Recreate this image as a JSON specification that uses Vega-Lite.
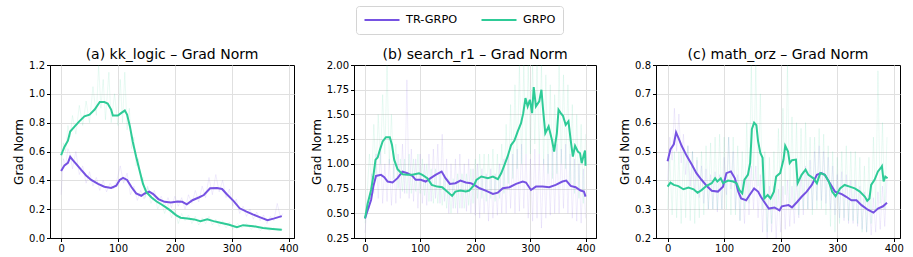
{
 "$schema": "https://vega.github.io/schema/vega-lite/v6.json",
 "padding": {"left": 12, "top": 5, "right": 5, "bottom": 5},
 "bounds": "flush",
 "spacing": 60,
 "config": {
   "font": "DejaVu Sans",
   "view": {"stroke": "#000000", "strokeWidth": 1, "strokeOpacity": 1},
   "axis": {"grid": true, "gridColor": "#e0e0e0", "gridWidth": 1, "domain": true, "domainColor": "#000000", "domainWidth": 1, "tickColor": "#000", "tickSize": 3.5, "labelFontSize": 10, "labelColor": "#000", "labelPadding": 2, "titleFontSize": 12, "titleFontWeight": "normal", "titleColor": "#000", "titlePadding": 3},
   "title": {"fontSize": 14, "fontWeight": "normal", "color": "#000", "offset": -2},
   "legend": {"title": null, "orient": "none", "legendX": 306, "legendY": -59, "direction": "horizontal", "gridAlign": "none", "symbolType": "stroke", "symbolSize": 1225, "clipHeight": 14, "symbolStrokeWidth": 2.2, "symbolOpacity": 1, "labelFontSize": 11.3, "labelColor": "#000", "labelOffset": 5, "columnPadding": 22, "padding": 7, "strokeColor": "#d4d4d4", "cornerRadius": 3, "fillColor": "#ffffff"}
 },
 "datasets": {
 "raw": [
{"p":"a","m":"TR-GRPO","s":0,"v":0.3},{"p":"a","m":"TR-GRPO","s":4,"v":0.55},{"p":"a","m":"TR-GRPO","s":8,"v":0.5},{"p":"a","m":"TR-GRPO","s":12,"v":0.62},{"p":"a","m":"TR-GRPO","s":16,"v":0.58},{"p":"a","m":"TR-GRPO","s":20,"v":0.48},{"p":"a","m":"TR-GRPO","s":26,"v":0.6},{"p":"a","m":"TR-GRPO","s":32,"v":0.44},{"p":"a","m":"TR-GRPO","s":38,"v":0.5},{"p":"a","m":"TR-GRPO","s":44,"v":0.38},{"p":"a","m":"TR-GRPO","s":50,"v":0.46},{"p":"a","m":"TR-GRPO","s":56,"v":0.36},{"p":"a","m":"TR-GRPO","s":62,"v":0.42},{"p":"a","m":"TR-GRPO","s":68,"v":0.33},{"p":"a","m":"TR-GRPO","s":74,"v":0.4},{"p":"a","m":"TR-GRPO","s":80,"v":0.32},{"p":"a","m":"TR-GRPO","s":86,"v":0.38},{"p":"a","m":"TR-GRPO","s":92,"v":0.34},{"p":"a","m":"TR-GRPO","s":98,"v":0.4},{"p":"a","m":"TR-GRPO","s":104,"v":0.5},{"p":"a","m":"TR-GRPO","s":110,"v":0.38},{"p":"a","m":"TR-GRPO","s":116,"v":0.45},{"p":"a","m":"TR-GRPO","s":122,"v":0.3},{"p":"a","m":"TR-GRPO","s":128,"v":0.36},{"p":"a","m":"TR-GRPO","s":134,"v":0.26},{"p":"a","m":"TR-GRPO","s":140,"v":0.33},{"p":"a","m":"TR-GRPO","s":146,"v":0.27},{"p":"a","m":"TR-GRPO","s":152,"v":0.36},{"p":"a","m":"TR-GRPO","s":158,"v":0.28},{"p":"a","m":"TR-GRPO","s":164,"v":0.33},{"p":"a","m":"TR-GRPO","s":170,"v":0.24},{"p":"a","m":"TR-GRPO","s":176,"v":0.29},{"p":"a","m":"TR-GRPO","s":182,"v":0.22},{"p":"a","m":"TR-GRPO","s":188,"v":0.28},{"p":"a","m":"TR-GRPO","s":194,"v":0.21},{"p":"a","m":"TR-GRPO","s":200,"v":0.29},{"p":"a","m":"TR-GRPO","s":206,"v":0.22},{"p":"a","m":"TR-GRPO","s":212,"v":0.28},{"p":"a","m":"TR-GRPO","s":218,"v":0.2},{"p":"a","m":"TR-GRPO","s":224,"v":0.3},{"p":"a","m":"TR-GRPO","s":230,"v":0.24},{"p":"a","m":"TR-GRPO","s":236,"v":0.33},{"p":"a","m":"TR-GRPO","s":242,"v":0.25},{"p":"a","m":"TR-GRPO","s":248,"v":0.36},{"p":"a","m":"TR-GRPO","s":254,"v":0.28},{"p":"a","m":"TR-GRPO","s":260,"v":0.42},{"p":"a","m":"TR-GRPO","s":266,"v":0.3},{"p":"a","m":"TR-GRPO","s":272,"v":0.44},{"p":"a","m":"TR-GRPO","s":278,"v":0.32},{"p":"a","m":"TR-GRPO","s":284,"v":0.4},{"p":"a","m":"TR-GRPO","s":290,"v":0.28},{"p":"a","m":"TR-GRPO","s":296,"v":0.34},{"p":"a","m":"TR-GRPO","s":302,"v":0.22},{"p":"a","m":"TR-GRPO","s":308,"v":0.27},{"p":"a","m":"TR-GRPO","s":314,"v":0.17},{"p":"a","m":"TR-GRPO","s":320,"v":0.22},{"p":"a","m":"TR-GRPO","s":326,"v":0.15},{"p":"a","m":"TR-GRPO","s":332,"v":0.2},{"p":"a","m":"TR-GRPO","s":338,"v":0.13},{"p":"a","m":"TR-GRPO","s":344,"v":0.18},{"p":"a","m":"TR-GRPO","s":350,"v":0.12},{"p":"a","m":"TR-GRPO","s":356,"v":0.16},{"p":"a","m":"TR-GRPO","s":362,"v":0.1},{"p":"a","m":"TR-GRPO","s":368,"v":0.15},{"p":"a","m":"TR-GRPO","s":374,"v":0.12},{"p":"a","m":"TR-GRPO","s":380,"v":0.24},{"p":"a","m":"TR-GRPO","s":386,"v":0.14},{"p":"a","m":"TR-GRPO","s":390,"v":0.17},
{"p":"a","m":"GRPO","s":0,"v":0.5},{"p":"a","m":"GRPO","s":4,"v":0.66},{"p":"a","m":"GRPO","s":8,"v":0.6},{"p":"a","m":"GRPO","s":12,"v":0.78},{"p":"a","m":"GRPO","s":16,"v":0.7},{"p":"a","m":"GRPO","s":20,"v":0.85},{"p":"a","m":"GRPO","s":26,"v":0.72},{"p":"a","m":"GRPO","s":32,"v":0.92},{"p":"a","m":"GRPO","s":38,"v":0.78},{"p":"a","m":"GRPO","s":44,"v":0.95},{"p":"a","m":"GRPO","s":50,"v":0.8},{"p":"a","m":"GRPO","s":56,"v":1.05},{"p":"a","m":"GRPO","s":62,"v":0.85},{"p":"a","m":"GRPO","s":66,"v":1.2},{"p":"a","m":"GRPO","s":70,"v":0.9},{"p":"a","m":"GRPO","s":74,"v":1.1},{"p":"a","m":"GRPO","s":78,"v":0.82},{"p":"a","m":"GRPO","s":84,"v":1.15},{"p":"a","m":"GRPO","s":88,"v":0.8},{"p":"a","m":"GRPO","s":94,"v":1.0},{"p":"a","m":"GRPO","s":100,"v":0.78},{"p":"a","m":"GRPO","s":104,"v":1.1},{"p":"a","m":"GRPO","s":108,"v":0.8},{"p":"a","m":"GRPO","s":112,"v":1.15},{"p":"a","m":"GRPO","s":116,"v":0.75},{"p":"a","m":"GRPO","s":120,"v":0.9},{"p":"a","m":"GRPO","s":124,"v":0.62},{"p":"a","m":"GRPO","s":128,"v":0.7},{"p":"a","m":"GRPO","s":132,"v":0.5},{"p":"a","m":"GRPO","s":136,"v":0.55},{"p":"a","m":"GRPO","s":140,"v":0.4},{"p":"a","m":"GRPO","s":144,"v":0.42},{"p":"a","m":"GRPO","s":148,"v":0.28},{"p":"a","m":"GRPO","s":152,"v":0.35},{"p":"a","m":"GRPO","s":158,"v":0.24},{"p":"a","m":"GRPO","s":164,"v":0.3},{"p":"a","m":"GRPO","s":170,"v":0.2},{"p":"a","m":"GRPO","s":176,"v":0.26},{"p":"a","m":"GRPO","s":182,"v":0.17},{"p":"a","m":"GRPO","s":188,"v":0.24},{"p":"a","m":"GRPO","s":194,"v":0.14},{"p":"a","m":"GRPO","s":200,"v":0.2},{"p":"a","m":"GRPO","s":206,"v":0.1},{"p":"a","m":"GRPO","s":212,"v":0.17},{"p":"a","m":"GRPO","s":218,"v":0.12},{"p":"a","m":"GRPO","s":224,"v":0.16},{"p":"a","m":"GRPO","s":230,"v":0.1},{"p":"a","m":"GRPO","s":236,"v":0.15},{"p":"a","m":"GRPO","s":242,"v":0.09},{"p":"a","m":"GRPO","s":248,"v":0.14},{"p":"a","m":"GRPO","s":254,"v":0.1},{"p":"a","m":"GRPO","s":260,"v":0.15},{"p":"a","m":"GRPO","s":266,"v":0.09},{"p":"a","m":"GRPO","s":272,"v":0.13},{"p":"a","m":"GRPO","s":278,"v":0.08},{"p":"a","m":"GRPO","s":284,"v":0.12},{"p":"a","m":"GRPO","s":290,"v":0.07},{"p":"a","m":"GRPO","s":296,"v":0.11},{"p":"a","m":"GRPO","s":302,"v":0.06},{"p":"a","m":"GRPO","s":310,"v":0.1},{"p":"a","m":"GRPO","s":318,"v":0.07},{"p":"a","m":"GRPO","s":326,"v":0.1},{"p":"a","m":"GRPO","s":334,"v":0.06},{"p":"a","m":"GRPO","s":342,"v":0.09},{"p":"a","m":"GRPO","s":350,"v":0.05},{"p":"a","m":"GRPO","s":358,"v":0.08},{"p":"a","m":"GRPO","s":366,"v":0.05},{"p":"a","m":"GRPO","s":374,"v":0.07},{"p":"a","m":"GRPO","s":382,"v":0.05},{"p":"a","m":"GRPO","s":390,"v":0.06},
{"p":"b","m":"TR-GRPO","s":0,"v":0.3},{"p":"b","m":"TR-GRPO","s":4,"v":0.6},{"p":"b","m":"TR-GRPO","s":8,"v":0.55},{"p":"b","m":"TR-GRPO","s":12,"v":0.9},{"p":"b","m":"TR-GRPO","s":16,"v":0.7},{"p":"b","m":"TR-GRPO","s":20,"v":1.1},{"p":"b","m":"TR-GRPO","s":24,"v":0.65},{"p":"b","m":"TR-GRPO","s":28,"v":1.15},{"p":"b","m":"TR-GRPO","s":32,"v":0.6},{"p":"b","m":"TR-GRPO","s":36,"v":1.0},{"p":"b","m":"TR-GRPO","s":40,"v":0.62},{"p":"b","m":"TR-GRPO","s":44,"v":1.05},{"p":"b","m":"TR-GRPO","s":48,"v":0.58},{"p":"b","m":"TR-GRPO","s":52,"v":1.0},{"p":"b","m":"TR-GRPO","s":56,"v":0.6},{"p":"b","m":"TR-GRPO","s":60,"v":1.1},{"p":"b","m":"TR-GRPO","s":64,"v":0.65},{"p":"b","m":"TR-GRPO","s":68,"v":1.2},{"p":"b","m":"TR-GRPO","s":72,"v":0.7},{"p":"b","m":"TR-GRPO","s":76,"v":1.85},{"p":"b","m":"TR-GRPO","s":80,"v":0.65},{"p":"b","m":"TR-GRPO","s":84,"v":1.15},{"p":"b","m":"TR-GRPO","s":88,"v":0.62},{"p":"b","m":"TR-GRPO","s":92,"v":1.05},{"p":"b","m":"TR-GRPO","s":96,"v":0.55},{"p":"b","m":"TR-GRPO","s":100,"v":1.1},{"p":"b","m":"TR-GRPO","s":104,"v":0.6},{"p":"b","m":"TR-GRPO","s":108,"v":1.0},{"p":"b","m":"TR-GRPO","s":112,"v":0.58},{"p":"b","m":"TR-GRPO","s":116,"v":1.1},{"p":"b","m":"TR-GRPO","s":120,"v":0.62},{"p":"b","m":"TR-GRPO","s":124,"v":1.15},{"p":"b","m":"TR-GRPO","s":128,"v":0.65},{"p":"b","m":"TR-GRPO","s":132,"v":1.2},{"p":"b","m":"TR-GRPO","s":136,"v":0.6},{"p":"b","m":"TR-GRPO","s":140,"v":1.3},{"p":"b","m":"TR-GRPO","s":144,"v":0.62},{"p":"b","m":"TR-GRPO","s":148,"v":1.05},{"p":"b","m":"TR-GRPO","s":152,"v":0.5},{"p":"b","m":"TR-GRPO","s":156,"v":1.0},{"p":"b","m":"TR-GRPO","s":160,"v":0.55},{"p":"b","m":"TR-GRPO","s":164,"v":1.05},{"p":"b","m":"TR-GRPO","s":168,"v":0.5},{"p":"b","m":"TR-GRPO","s":172,"v":1.1},{"p":"b","m":"TR-GRPO","s":176,"v":0.55},{"p":"b","m":"TR-GRPO","s":180,"v":1.0},{"p":"b","m":"TR-GRPO","s":184,"v":0.52},{"p":"b","m":"TR-GRPO","s":188,"v":1.05},{"p":"b","m":"TR-GRPO","s":192,"v":0.5},{"p":"b","m":"TR-GRPO","s":196,"v":0.95},{"p":"b","m":"TR-GRPO","s":200,"v":0.48},{"p":"b","m":"TR-GRPO","s":204,"v":1.0},{"p":"b","m":"TR-GRPO","s":208,"v":0.45},{"p":"b","m":"TR-GRPO","s":212,"v":0.95},{"p":"b","m":"TR-GRPO","s":216,"v":0.5},{"p":"b","m":"TR-GRPO","s":220,"v":0.9},{"p":"b","m":"TR-GRPO","s":224,"v":0.42},{"p":"b","m":"TR-GRPO","s":228,"v":0.95},{"p":"b","m":"TR-GRPO","s":232,"v":0.45},{"p":"b","m":"TR-GRPO","s":236,"v":0.9},{"p":"b","m":"TR-GRPO","s":240,"v":0.48},{"p":"b","m":"TR-GRPO","s":244,"v":1.0},{"p":"b","m":"TR-GRPO","s":248,"v":0.5},{"p":"b","m":"TR-GRPO","s":252,"v":1.05},{"p":"b","m":"TR-GRPO","s":256,"v":0.5},{"p":"b","m":"TR-GRPO","s":260,"v":1.1},{"p":"b","m":"TR-GRPO","s":264,"v":0.55},{"p":"b","m":"TR-GRPO","s":268,"v":1.1},{"p":"b","m":"TR-GRPO","s":272,"v":0.5},{"p":"b","m":"TR-GRPO","s":276,"v":1.15},{"p":"b","m":"TR-GRPO","s":280,"v":0.52},{"p":"b","m":"TR-GRPO","s":284,"v":1.2},{"p":"b","m":"TR-GRPO","s":288,"v":0.55},{"p":"b","m":"TR-GRPO","s":292,"v":1.1},{"p":"b","m":"TR-GRPO","s":296,"v":0.45},{"p":"b","m":"TR-GRPO","s":300,"v":1.05},{"p":"b","m":"TR-GRPO","s":304,"v":0.42},{"p":"b","m":"TR-GRPO","s":308,"v":1.15},{"p":"b","m":"TR-GRPO","s":312,"v":0.45},{"p":"b","m":"TR-GRPO","s":316,"v":1.1},{"p":"b","m":"TR-GRPO","s":320,"v":0.35},{"p":"b","m":"TR-GRPO","s":324,"v":1.05},{"p":"b","m":"TR-GRPO","s":328,"v":0.45},{"p":"b","m":"TR-GRPO","s":332,"v":1.1},{"p":"b","m":"TR-GRPO","s":336,"v":0.48},{"p":"b","m":"TR-GRPO","s":340,"v":1.15},{"p":"b","m":"TR-GRPO","s":344,"v":0.5},{"p":"b","m":"TR-GRPO","s":348,"v":1.2},{"p":"b","m":"TR-GRPO","s":352,"v":0.5},{"p":"b","m":"TR-GRPO","s":356,"v":1.15},{"p":"b","m":"TR-GRPO","s":360,"v":0.55},{"p":"b","m":"TR-GRPO","s":364,"v":1.2},{"p":"b","m":"TR-GRPO","s":368,"v":0.5},{"p":"b","m":"TR-GRPO","s":372,"v":1.1},{"p":"b","m":"TR-GRPO","s":376,"v":0.45},{"p":"b","m":"TR-GRPO","s":380,"v":1.05},{"p":"b","m":"TR-GRPO","s":384,"v":0.42},{"p":"b","m":"TR-GRPO","s":388,"v":1.0},{"p":"b","m":"TR-GRPO","s":392,"v":0.4},{"p":"b","m":"TR-GRPO","s":396,"v":0.95},{"p":"b","m":"TR-GRPO","s":400,"v":0.45},
{"p":"b","m":"GRPO","s":0,"v":0.4},{"p":"b","m":"GRPO","s":4,"v":0.7},{"p":"b","m":"GRPO","s":8,"v":1.1},{"p":"b","m":"GRPO","s":12,"v":0.8},{"p":"b","m":"GRPO","s":16,"v":1.4},{"p":"b","m":"GRPO","s":20,"v":0.9},{"p":"b","m":"GRPO","s":24,"v":1.5},{"p":"b","m":"GRPO","s":28,"v":1.0},{"p":"b","m":"GRPO","s":32,"v":1.7},{"p":"b","m":"GRPO","s":36,"v":1.1},{"p":"b","m":"GRPO","s":40,"v":2.0},{"p":"b","m":"GRPO","s":44,"v":1.0},{"p":"b","m":"GRPO","s":48,"v":1.5},{"p":"b","m":"GRPO","s":52,"v":0.85},{"p":"b","m":"GRPO","s":56,"v":1.2},{"p":"b","m":"GRPO","s":60,"v":0.75},{"p":"b","m":"GRPO","s":64,"v":1.05},{"p":"b","m":"GRPO","s":68,"v":0.72},{"p":"b","m":"GRPO","s":72,"v":1.05},{"p":"b","m":"GRPO","s":76,"v":0.7},{"p":"b","m":"GRPO","s":80,"v":1.1},{"p":"b","m":"GRPO","s":84,"v":0.7},{"p":"b","m":"GRPO","s":88,"v":1.05},{"p":"b","m":"GRPO","s":92,"v":0.72},{"p":"b","m":"GRPO","s":96,"v":1.1},{"p":"b","m":"GRPO","s":100,"v":0.7},{"p":"b","m":"GRPO","s":104,"v":1.05},{"p":"b","m":"GRPO","s":108,"v":0.68},{"p":"b","m":"GRPO","s":112,"v":1.0},{"p":"b","m":"GRPO","s":116,"v":0.62},{"p":"b","m":"GRPO","s":120,"v":0.95},{"p":"b","m":"GRPO","s":124,"v":0.6},{"p":"b","m":"GRPO","s":128,"v":0.95},{"p":"b","m":"GRPO","s":132,"v":0.6},{"p":"b","m":"GRPO","s":136,"v":0.9},{"p":"b","m":"GRPO","s":140,"v":0.58},{"p":"b","m":"GRPO","s":144,"v":0.9},{"p":"b","m":"GRPO","s":148,"v":0.55},{"p":"b","m":"GRPO","s":152,"v":0.85},{"p":"b","m":"GRPO","s":156,"v":0.5},{"p":"b","m":"GRPO","s":160,"v":0.85},{"p":"b","m":"GRPO","s":164,"v":0.55},{"p":"b","m":"GRPO","s":168,"v":0.9},{"p":"b","m":"GRPO","s":172,"v":0.55},{"p":"b","m":"GRPO","s":176,"v":0.9},{"p":"b","m":"GRPO","s":180,"v":0.55},{"p":"b","m":"GRPO","s":184,"v":0.9},{"p":"b","m":"GRPO","s":188,"v":0.58},{"p":"b","m":"GRPO","s":192,"v":0.95},{"p":"b","m":"GRPO","s":196,"v":0.6},{"p":"b","m":"GRPO","s":200,"v":1.05},{"p":"b","m":"GRPO","s":204,"v":0.65},{"p":"b","m":"GRPO","s":208,"v":1.1},{"p":"b","m":"GRPO","s":212,"v":0.65},{"p":"b","m":"GRPO","s":216,"v":1.1},{"p":"b","m":"GRPO","s":220,"v":0.62},{"p":"b","m":"GRPO","s":224,"v":1.1},{"p":"b","m":"GRPO","s":228,"v":0.65},{"p":"b","m":"GRPO","s":232,"v":1.15},{"p":"b","m":"GRPO","s":236,"v":0.62},{"p":"b","m":"GRPO","s":240,"v":1.1},{"p":"b","m":"GRPO","s":244,"v":0.65},{"p":"b","m":"GRPO","s":248,"v":1.2},{"p":"b","m":"GRPO","s":252,"v":0.7},{"p":"b","m":"GRPO","s":256,"v":1.4},{"p":"b","m":"GRPO","s":260,"v":0.8},{"p":"b","m":"GRPO","s":264,"v":1.6},{"p":"b","m":"GRPO","s":268,"v":0.85},{"p":"b","m":"GRPO","s":272,"v":1.8},{"p":"b","m":"GRPO","s":276,"v":0.95},{"p":"b","m":"GRPO","s":280,"v":2.0},{"p":"b","m":"GRPO","s":284,"v":1.0},{"p":"b","m":"GRPO","s":288,"v":2.0},{"p":"b","m":"GRPO","s":292,"v":1.1},{"p":"b","m":"GRPO","s":296,"v":2.0},{"p":"b","m":"GRPO","s":300,"v":1.1},{"p":"b","m":"GRPO","s":304,"v":2.0},{"p":"b","m":"GRPO","s":308,"v":1.2},{"p":"b","m":"GRPO","s":312,"v":2.0},{"p":"b","m":"GRPO","s":316,"v":1.1},{"p":"b","m":"GRPO","s":320,"v":2.0},{"p":"b","m":"GRPO","s":324,"v":1.0},{"p":"b","m":"GRPO","s":328,"v":1.9},{"p":"b","m":"GRPO","s":332,"v":0.9},{"p":"b","m":"GRPO","s":336,"v":1.8},{"p":"b","m":"GRPO","s":340,"v":0.85},{"p":"b","m":"GRPO","s":344,"v":1.7},{"p":"b","m":"GRPO","s":348,"v":0.9},{"p":"b","m":"GRPO","s":352,"v":2.0},{"p":"b","m":"GRPO","s":356,"v":1.0},{"p":"b","m":"GRPO","s":360,"v":1.9},{"p":"b","m":"GRPO","s":364,"v":0.95},{"p":"b","m":"GRPO","s":368,"v":1.8},{"p":"b","m":"GRPO","s":372,"v":0.8},{"p":"b","m":"GRPO","s":376,"v":1.6},{"p":"b","m":"GRPO","s":380,"v":0.7},{"p":"b","m":"GRPO","s":384,"v":1.5},{"p":"b","m":"GRPO","s":388,"v":0.65},{"p":"b","m":"GRPO","s":392,"v":1.4},{"p":"b","m":"GRPO","s":396,"v":0.6},{"p":"b","m":"GRPO","s":400,"v":1.3},
{"p":"c","m":"TR-GRPO","s":0,"v":0.4},{"p":"c","m":"TR-GRPO","s":4,"v":0.55},{"p":"c","m":"TR-GRPO","s":8,"v":0.47},{"p":"c","m":"TR-GRPO","s":12,"v":0.65},{"p":"c","m":"TR-GRPO","s":16,"v":0.5},{"p":"c","m":"TR-GRPO","s":20,"v":0.63},{"p":"c","m":"TR-GRPO","s":24,"v":0.46},{"p":"c","m":"TR-GRPO","s":28,"v":0.56},{"p":"c","m":"TR-GRPO","s":32,"v":0.42},{"p":"c","m":"TR-GRPO","s":36,"v":0.52},{"p":"c","m":"TR-GRPO","s":40,"v":0.38},{"p":"c","m":"TR-GRPO","s":44,"v":0.5},{"p":"c","m":"TR-GRPO","s":48,"v":0.36},{"p":"c","m":"TR-GRPO","s":52,"v":0.47},{"p":"c","m":"TR-GRPO","s":56,"v":0.34},{"p":"c","m":"TR-GRPO","s":60,"v":0.45},{"p":"c","m":"TR-GRPO","s":64,"v":0.32},{"p":"c","m":"TR-GRPO","s":68,"v":0.44},{"p":"c","m":"TR-GRPO","s":72,"v":0.3},{"p":"c","m":"TR-GRPO","s":76,"v":0.42},{"p":"c","m":"TR-GRPO","s":80,"v":0.3},{"p":"c","m":"TR-GRPO","s":84,"v":0.43},{"p":"c","m":"TR-GRPO","s":88,"v":0.29},{"p":"c","m":"TR-GRPO","s":92,"v":0.42},{"p":"c","m":"TR-GRPO","s":96,"v":0.3},{"p":"c","m":"TR-GRPO","s":100,"v":0.48},{"p":"c","m":"TR-GRPO","s":104,"v":0.35},{"p":"c","m":"TR-GRPO","s":108,"v":0.55},{"p":"c","m":"TR-GRPO","s":112,"v":0.37},{"p":"c","m":"TR-GRPO","s":116,"v":0.5},{"p":"c","m":"TR-GRPO","s":120,"v":0.3},{"p":"c","m":"TR-GRPO","s":124,"v":0.42},{"p":"c","m":"TR-GRPO","s":128,"v":0.26},{"p":"c","m":"TR-GRPO","s":132,"v":0.4},{"p":"c","m":"TR-GRPO","s":136,"v":0.25},{"p":"c","m":"TR-GRPO","s":140,"v":0.42},{"p":"c","m":"TR-GRPO","s":144,"v":0.28},{"p":"c","m":"TR-GRPO","s":148,"v":0.45},{"p":"c","m":"TR-GRPO","s":152,"v":0.3},{"p":"c","m":"TR-GRPO","s":156,"v":0.45},{"p":"c","m":"TR-GRPO","s":160,"v":0.27},{"p":"c","m":"TR-GRPO","s":164,"v":0.42},{"p":"c","m":"TR-GRPO","s":168,"v":0.22},{"p":"c","m":"TR-GRPO","s":172,"v":0.4},{"p":"c","m":"TR-GRPO","s":176,"v":0.2},{"p":"c","m":"TR-GRPO","s":180,"v":0.38},{"p":"c","m":"TR-GRPO","s":184,"v":0.22},{"p":"c","m":"TR-GRPO","s":188,"v":0.38},{"p":"c","m":"TR-GRPO","s":192,"v":0.2},{"p":"c","m":"TR-GRPO","s":196,"v":0.37},{"p":"c","m":"TR-GRPO","s":200,"v":0.22},{"p":"c","m":"TR-GRPO","s":204,"v":0.38},{"p":"c","m":"TR-GRPO","s":208,"v":0.23},{"p":"c","m":"TR-GRPO","s":212,"v":0.4},{"p":"c","m":"TR-GRPO","s":216,"v":0.24},{"p":"c","m":"TR-GRPO","s":220,"v":0.38},{"p":"c","m":"TR-GRPO","s":224,"v":0.25},{"p":"c","m":"TR-GRPO","s":228,"v":0.4},{"p":"c","m":"TR-GRPO","s":232,"v":0.27},{"p":"c","m":"TR-GRPO","s":236,"v":0.42},{"p":"c","m":"TR-GRPO","s":240,"v":0.28},{"p":"c","m":"TR-GRPO","s":244,"v":0.45},{"p":"c","m":"TR-GRPO","s":248,"v":0.3},{"p":"c","m":"TR-GRPO","s":252,"v":0.47},{"p":"c","m":"TR-GRPO","s":256,"v":0.3},{"p":"c","m":"TR-GRPO","s":260,"v":0.5},{"p":"c","m":"TR-GRPO","s":264,"v":0.33},{"p":"c","m":"TR-GRPO","s":268,"v":0.52},{"p":"c","m":"TR-GRPO","s":272,"v":0.33},{"p":"c","m":"TR-GRPO","s":276,"v":0.5},{"p":"c","m":"TR-GRPO","s":280,"v":0.32},{"p":"c","m":"TR-GRPO","s":284,"v":0.48},{"p":"c","m":"TR-GRPO","s":288,"v":0.3},{"p":"c","m":"TR-GRPO","s":292,"v":0.45},{"p":"c","m":"TR-GRPO","s":296,"v":0.28},{"p":"c","m":"TR-GRPO","s":300,"v":0.42},{"p":"c","m":"TR-GRPO","s":304,"v":0.27},{"p":"c","m":"TR-GRPO","s":308,"v":0.43},{"p":"c","m":"TR-GRPO","s":312,"v":0.26},{"p":"c","m":"TR-GRPO","s":316,"v":0.42},{"p":"c","m":"TR-GRPO","s":320,"v":0.25},{"p":"c","m":"TR-GRPO","s":324,"v":0.4},{"p":"c","m":"TR-GRPO","s":328,"v":0.25},{"p":"c","m":"TR-GRPO","s":332,"v":0.4},{"p":"c","m":"TR-GRPO","s":336,"v":0.24},{"p":"c","m":"TR-GRPO","s":340,"v":0.38},{"p":"c","m":"TR-GRPO","s":344,"v":0.23},{"p":"c","m":"TR-GRPO","s":348,"v":0.36},{"p":"c","m":"TR-GRPO","s":352,"v":0.22},{"p":"c","m":"TR-GRPO","s":356,"v":0.35},{"p":"c","m":"TR-GRPO","s":360,"v":0.21},{"p":"c","m":"TR-GRPO","s":364,"v":0.34},{"p":"c","m":"TR-GRPO","s":368,"v":0.22},{"p":"c","m":"TR-GRPO","s":372,"v":0.36},{"p":"c","m":"TR-GRPO","s":376,"v":0.23},{"p":"c","m":"TR-GRPO","s":380,"v":0.38},{"p":"c","m":"TR-GRPO","s":384,"v":0.24},{"p":"c","m":"TR-GRPO","s":388,"v":0.4},
{"p":"c","m":"GRPO","s":0,"v":0.3},{"p":"c","m":"GRPO","s":4,"v":0.48},{"p":"c","m":"GRPO","s":8,"v":0.28},{"p":"c","m":"GRPO","s":12,"v":0.5},{"p":"c","m":"GRPO","s":16,"v":0.27},{"p":"c","m":"GRPO","s":20,"v":0.5},{"p":"c","m":"GRPO","s":24,"v":0.25},{"p":"c","m":"GRPO","s":28,"v":0.5},{"p":"c","m":"GRPO","s":32,"v":0.27},{"p":"c","m":"GRPO","s":36,"v":0.52},{"p":"c","m":"GRPO","s":40,"v":0.26},{"p":"c","m":"GRPO","s":44,"v":0.5},{"p":"c","m":"GRPO","s":48,"v":0.25},{"p":"c","m":"GRPO","s":52,"v":0.48},{"p":"c","m":"GRPO","s":56,"v":0.27},{"p":"c","m":"GRPO","s":60,"v":0.5},{"p":"c","m":"GRPO","s":64,"v":0.28},{"p":"c","m":"GRPO","s":68,"v":0.52},{"p":"c","m":"GRPO","s":72,"v":0.3},{"p":"c","m":"GRPO","s":76,"v":0.53},{"p":"c","m":"GRPO","s":80,"v":0.3},{"p":"c","m":"GRPO","s":84,"v":0.55},{"p":"c","m":"GRPO","s":88,"v":0.3},{"p":"c","m":"GRPO","s":92,"v":0.56},{"p":"c","m":"GRPO","s":96,"v":0.3},{"p":"c","m":"GRPO","s":100,"v":0.55},{"p":"c","m":"GRPO","s":104,"v":0.3},{"p":"c","m":"GRPO","s":108,"v":0.55},{"p":"c","m":"GRPO","s":112,"v":0.28},{"p":"c","m":"GRPO","s":116,"v":0.55},{"p":"c","m":"GRPO","s":120,"v":0.28},{"p":"c","m":"GRPO","s":124,"v":0.52},{"p":"c","m":"GRPO","s":128,"v":0.26},{"p":"c","m":"GRPO","s":132,"v":0.5},{"p":"c","m":"GRPO","s":136,"v":0.3},{"p":"c","m":"GRPO","s":140,"v":0.6},{"p":"c","m":"GRPO","s":144,"v":0.32},{"p":"c","m":"GRPO","s":148,"v":0.8},{"p":"c","m":"GRPO","s":152,"v":0.4},{"p":"c","m":"GRPO","s":156,"v":0.8},{"p":"c","m":"GRPO","s":160,"v":0.38},{"p":"c","m":"GRPO","s":164,"v":0.7},{"p":"c","m":"GRPO","s":168,"v":0.3},{"p":"c","m":"GRPO","s":172,"v":0.5},{"p":"c","m":"GRPO","s":176,"v":0.22},{"p":"c","m":"GRPO","s":180,"v":0.48},{"p":"c","m":"GRPO","s":184,"v":0.25},{"p":"c","m":"GRPO","s":188,"v":0.5},{"p":"c","m":"GRPO","s":192,"v":0.3},{"p":"c","m":"GRPO","s":196,"v":0.58},{"p":"c","m":"GRPO","s":200,"v":0.3},{"p":"c","m":"GRPO","s":204,"v":0.65},{"p":"c","m":"GRPO","s":208,"v":0.35},{"p":"c","m":"GRPO","s":212,"v":0.8},{"p":"c","m":"GRPO","s":216,"v":0.32},{"p":"c","m":"GRPO","s":220,"v":0.62},{"p":"c","m":"GRPO","s":224,"v":0.3},{"p":"c","m":"GRPO","s":228,"v":0.6},{"p":"c","m":"GRPO","s":232,"v":0.28},{"p":"c","m":"GRPO","s":236,"v":0.58},{"p":"c","m":"GRPO","s":240,"v":0.3},{"p":"c","m":"GRPO","s":244,"v":0.6},{"p":"c","m":"GRPO","s":248,"v":0.3},{"p":"c","m":"GRPO","s":252,"v":0.55},{"p":"c","m":"GRPO","s":256,"v":0.28},{"p":"c","m":"GRPO","s":260,"v":0.55},{"p":"c","m":"GRPO","s":264,"v":0.3},{"p":"c","m":"GRPO","s":268,"v":0.58},{"p":"c","m":"GRPO","s":272,"v":0.3},{"p":"c","m":"GRPO","s":276,"v":0.56},{"p":"c","m":"GRPO","s":280,"v":0.28},{"p":"c","m":"GRPO","s":284,"v":0.52},{"p":"c","m":"GRPO","s":288,"v":0.24},{"p":"c","m":"GRPO","s":292,"v":0.5},{"p":"c","m":"GRPO","s":296,"v":0.22},{"p":"c","m":"GRPO","s":300,"v":0.48},{"p":"c","m":"GRPO","s":304,"v":0.25},{"p":"c","m":"GRPO","s":308,"v":0.5},{"p":"c","m":"GRPO","s":312,"v":0.27},{"p":"c","m":"GRPO","s":316,"v":0.52},{"p":"c","m":"GRPO","s":320,"v":0.26},{"p":"c","m":"GRPO","s":324,"v":0.5},{"p":"c","m":"GRPO","s":328,"v":0.26},{"p":"c","m":"GRPO","s":332,"v":0.5},{"p":"c","m":"GRPO","s":336,"v":0.25},{"p":"c","m":"GRPO","s":340,"v":0.48},{"p":"c","m":"GRPO","s":344,"v":0.22},{"p":"c","m":"GRPO","s":348,"v":0.45},{"p":"c","m":"GRPO","s":352,"v":0.22},{"p":"c","m":"GRPO","s":356,"v":0.48},{"p":"c","m":"GRPO","s":360,"v":0.25},{"p":"c","m":"GRPO","s":364,"v":0.55},{"p":"c","m":"GRPO","s":368,"v":0.3},{"p":"c","m":"GRPO","s":372,"v":0.78},{"p":"c","m":"GRPO","s":376,"v":0.32},{"p":"c","m":"GRPO","s":380,"v":0.6},{"p":"c","m":"GRPO","s":384,"v":0.3},{"p":"c","m":"GRPO","s":388,"v":0.55}
 ],
 "d": [
{"p":"a","m":"TR-GRPO","s":0,"v":0.464},{"p":"a","m":"TR-GRPO","s":6,"v":0.504},{"p":"a","m":"TR-GRPO","s":12,"v":0.521},{"p":"a","m":"TR-GRPO","s":16,"v":0.563},{"p":"a","m":"TR-GRPO","s":21,"v":0.539},{"p":"a","m":"TR-GRPO","s":26,"v":0.516},{"p":"a","m":"TR-GRPO","s":35,"v":0.474},{"p":"a","m":"TR-GRPO","s":44,"v":0.434},{"p":"a","m":"TR-GRPO","s":53,"v":0.403},{"p":"a","m":"TR-GRPO","s":65,"v":0.375},{"p":"a","m":"TR-GRPO","s":76,"v":0.356},{"p":"a","m":"TR-GRPO","s":88,"v":0.347},{"p":"a","m":"TR-GRPO","s":97,"v":0.363},{"p":"a","m":"TR-GRPO","s":103,"v":0.403},{"p":"a","m":"TR-GRPO","s":109,"v":0.417},{"p":"a","m":"TR-GRPO","s":116,"v":0.403},{"p":"a","m":"TR-GRPO","s":124,"v":0.352},{"p":"a","m":"TR-GRPO","s":132,"v":0.309},{"p":"a","m":"TR-GRPO","s":141,"v":0.293},{"p":"a","m":"TR-GRPO","s":147,"v":0.309},{"p":"a","m":"TR-GRPO","s":155,"v":0.321},{"p":"a","m":"TR-GRPO","s":162,"v":0.305},{"p":"a","m":"TR-GRPO","s":171,"v":0.27},{"p":"a","m":"TR-GRPO","s":182,"v":0.251},{"p":"a","m":"TR-GRPO","s":193,"v":0.246},{"p":"a","m":"TR-GRPO","s":205,"v":0.253},{"p":"a","m":"TR-GRPO","s":213,"v":0.251},{"p":"a","m":"TR-GRPO","s":221,"v":0.234},{"p":"a","m":"TR-GRPO","s":231,"v":0.262},{"p":"a","m":"TR-GRPO","s":242,"v":0.281},{"p":"a","m":"TR-GRPO","s":251,"v":0.298},{"p":"a","m":"TR-GRPO","s":262,"v":0.345},{"p":"a","m":"TR-GRPO","s":274,"v":0.347},{"p":"a","m":"TR-GRPO","s":283,"v":0.34},{"p":"a","m":"TR-GRPO","s":291,"v":0.305},{"p":"a","m":"TR-GRPO","s":303,"v":0.258},{"p":"a","m":"TR-GRPO","s":314,"v":0.206},{"p":"a","m":"TR-GRPO","s":326,"v":0.183},{"p":"a","m":"TR-GRPO","s":337,"v":0.164},{"p":"a","m":"TR-GRPO","s":349,"v":0.145},{"p":"a","m":"TR-GRPO","s":363,"v":0.124},{"p":"a","m":"TR-GRPO","s":375,"v":0.136},{"p":"a","m":"TR-GRPO","s":388,"v":0.152},
{"p":"a","m":"GRPO","s":0,"v":0.574},{"p":"a","m":"GRPO","s":6,"v":0.633},{"p":"a","m":"GRPO","s":12,"v":0.675},{"p":"a","m":"GRPO","s":16,"v":0.739},{"p":"a","m":"GRPO","s":24,"v":0.774},{"p":"a","m":"GRPO","s":32,"v":0.809},{"p":"a","m":"GRPO","s":41,"v":0.844},{"p":"a","m":"GRPO","s":50,"v":0.856},{"p":"a","m":"GRPO","s":59,"v":0.891},{"p":"a","m":"GRPO","s":68,"v":0.943},{"p":"a","m":"GRPO","s":76,"v":0.943},{"p":"a","m":"GRPO","s":82,"v":0.933},{"p":"a","m":"GRPO","s":88,"v":0.891},{"p":"a","m":"GRPO","s":91,"v":0.849},{"p":"a","m":"GRPO","s":100,"v":0.849},{"p":"a","m":"GRPO","s":106,"v":0.868},{"p":"a","m":"GRPO","s":112,"v":0.884},{"p":"a","m":"GRPO","s":116,"v":0.856},{"p":"a","m":"GRPO","s":121,"v":0.774},{"p":"a","m":"GRPO","s":126,"v":0.668},{"p":"a","m":"GRPO","s":132,"v":0.563},{"p":"a","m":"GRPO","s":138,"v":0.469},{"p":"a","m":"GRPO","s":144,"v":0.375},{"p":"a","m":"GRPO","s":150,"v":0.317},{"p":"a","m":"GRPO","s":159,"v":0.281},{"p":"a","m":"GRPO","s":168,"v":0.253},{"p":"a","m":"GRPO","s":176,"v":0.234},{"p":"a","m":"GRPO","s":185,"v":0.211},{"p":"a","m":"GRPO","s":193,"v":0.188},{"p":"a","m":"GRPO","s":202,"v":0.159},{"p":"a","m":"GRPO","s":210,"v":0.141},{"p":"a","m":"GRPO","s":222,"v":0.136},{"p":"a","m":"GRPO","s":234,"v":0.129},{"p":"a","m":"GRPO","s":245,"v":0.117},{"p":"a","m":"GRPO","s":257,"v":0.129},{"p":"a","m":"GRPO","s":268,"v":0.117},{"p":"a","m":"GRPO","s":280,"v":0.106},{"p":"a","m":"GRPO","s":294,"v":0.094},{"p":"a","m":"GRPO","s":309,"v":0.075},{"p":"a","m":"GRPO","s":320,"v":0.089},{"p":"a","m":"GRPO","s":338,"v":0.082},{"p":"a","m":"GRPO","s":355,"v":0.07},{"p":"a","m":"GRPO","s":372,"v":0.063},{"p":"a","m":"GRPO","s":388,"v":0.057},
{"p":"b","m":"TR-GRPO","s":0,"v":0.449},{"p":"b","m":"TR-GRPO","s":5,"v":0.534},{"p":"b","m":"TR-GRPO","s":11,"v":0.635},{"p":"b","m":"TR-GRPO","s":15,"v":0.77},{"p":"b","m":"TR-GRPO","s":20,"v":0.878},{"p":"b","m":"TR-GRPO","s":29,"v":0.889},{"p":"b","m":"TR-GRPO","s":35,"v":0.865},{"p":"b","m":"TR-GRPO","s":41,"v":0.821},{"p":"b","m":"TR-GRPO","s":50,"v":0.811},{"p":"b","m":"TR-GRPO","s":59,"v":0.855},{"p":"b","m":"TR-GRPO","s":68,"v":0.922},{"p":"b","m":"TR-GRPO","s":77,"v":0.905},{"p":"b","m":"TR-GRPO","s":86,"v":0.878},{"p":"b","m":"TR-GRPO","s":92,"v":0.838},{"p":"b","m":"TR-GRPO","s":101,"v":0.838},{"p":"b","m":"TR-GRPO","s":110,"v":0.821},{"p":"b","m":"TR-GRPO","s":119,"v":0.855},{"p":"b","m":"TR-GRPO","s":128,"v":0.889},{"p":"b","m":"TR-GRPO","s":139,"v":0.922},{"p":"b","m":"TR-GRPO","s":146,"v":0.855},{"p":"b","m":"TR-GRPO","s":154,"v":0.797},{"p":"b","m":"TR-GRPO","s":164,"v":0.804},{"p":"b","m":"TR-GRPO","s":173,"v":0.831},{"p":"b","m":"TR-GRPO","s":183,"v":0.811},{"p":"b","m":"TR-GRPO","s":192,"v":0.804},{"p":"b","m":"TR-GRPO","s":201,"v":0.777},{"p":"b","m":"TR-GRPO","s":208,"v":0.753},{"p":"b","m":"TR-GRPO","s":220,"v":0.726},{"p":"b","m":"TR-GRPO","s":232,"v":0.696},{"p":"b","m":"TR-GRPO","s":241,"v":0.709},{"p":"b","m":"TR-GRPO","s":250,"v":0.753},{"p":"b","m":"TR-GRPO","s":262,"v":0.764},{"p":"b","m":"TR-GRPO","s":274,"v":0.797},{"p":"b","m":"TR-GRPO","s":286,"v":0.821},{"p":"b","m":"TR-GRPO","s":292,"v":0.811},{"p":"b","m":"TR-GRPO","s":301,"v":0.736},{"p":"b","m":"TR-GRPO","s":310,"v":0.77},{"p":"b","m":"TR-GRPO","s":322,"v":0.77},{"p":"b","m":"TR-GRPO","s":334,"v":0.764},{"p":"b","m":"TR-GRPO","s":346,"v":0.787},{"p":"b","m":"TR-GRPO","s":358,"v":0.821},{"p":"b","m":"TR-GRPO","s":365,"v":0.831},{"p":"b","m":"TR-GRPO","s":373,"v":0.777},{"p":"b","m":"TR-GRPO","s":382,"v":0.764},{"p":"b","m":"TR-GRPO","s":391,"v":0.73},{"p":"b","m":"TR-GRPO","s":397,"v":0.72},{"p":"b","m":"TR-GRPO","s":400,"v":0.669},
{"p":"b","m":"GRPO","s":0,"v":0.449},{"p":"b","m":"GRPO","s":5,"v":0.601},{"p":"b","m":"GRPO","s":11,"v":0.736},{"p":"b","m":"GRPO","s":15,"v":0.872},{"p":"b","m":"GRPO","s":19,"v":1.04},{"p":"b","m":"GRPO","s":23,"v":1.064},{"p":"b","m":"GRPO","s":27,"v":1.142},{"p":"b","m":"GRPO","s":32,"v":1.226},{"p":"b","m":"GRPO","s":38,"v":1.27},{"p":"b","m":"GRPO","s":45,"v":1.27},{"p":"b","m":"GRPO","s":49,"v":1.19},{"p":"b","m":"GRPO","s":53,"v":1.04},{"p":"b","m":"GRPO","s":59,"v":0.946},{"p":"b","m":"GRPO","s":68,"v":0.895},{"p":"b","m":"GRPO","s":77,"v":0.889},{"p":"b","m":"GRPO","s":86,"v":0.889},{"p":"b","m":"GRPO","s":98,"v":0.905},{"p":"b","m":"GRPO","s":104,"v":0.889},{"p":"b","m":"GRPO","s":113,"v":0.855},{"p":"b","m":"GRPO","s":121,"v":0.787},{"p":"b","m":"GRPO","s":131,"v":0.77},{"p":"b","m":"GRPO","s":140,"v":0.764},{"p":"b","m":"GRPO","s":149,"v":0.72},{"p":"b","m":"GRPO","s":158,"v":0.676},{"p":"b","m":"GRPO","s":164,"v":0.72},{"p":"b","m":"GRPO","s":173,"v":0.73},{"p":"b","m":"GRPO","s":183,"v":0.72},{"p":"b","m":"GRPO","s":189,"v":0.73},{"p":"b","m":"GRPO","s":198,"v":0.787},{"p":"b","m":"GRPO","s":202,"v":0.838},{"p":"b","m":"GRPO","s":211,"v":0.872},{"p":"b","m":"GRPO","s":223,"v":0.855},{"p":"b","m":"GRPO","s":232,"v":0.872},{"p":"b","m":"GRPO","s":241,"v":0.845},{"p":"b","m":"GRPO","s":247,"v":0.905},{"p":"b","m":"GRPO","s":253,"v":0.99},{"p":"b","m":"GRPO","s":259,"v":1.08},{"p":"b","m":"GRPO","s":265,"v":1.19},{"p":"b","m":"GRPO","s":271,"v":1.236},{"p":"b","m":"GRPO","s":277,"v":1.328},{"p":"b","m":"GRPO","s":283,"v":1.412},{"p":"b","m":"GRPO","s":287,"v":1.513},{"p":"b","m":"GRPO","s":291,"v":1.665},{"p":"b","m":"GRPO","s":295,"v":1.581},{"p":"b","m":"GRPO","s":299,"v":1.649},{"p":"b","m":"GRPO","s":303,"v":1.513},{"p":"b","m":"GRPO","s":306,"v":1.777},{"p":"b","m":"GRPO","s":310,"v":1.581},{"p":"b","m":"GRPO","s":316,"v":1.632},{"p":"b","m":"GRPO","s":320,"v":1.75},{"p":"b","m":"GRPO","s":323,"v":1.547},{"p":"b","m":"GRPO","s":327,"v":1.311},{"p":"b","m":"GRPO","s":333,"v":1.378},{"p":"b","m":"GRPO","s":339,"v":1.243},{"p":"b","m":"GRPO","s":343,"v":1.125},{"p":"b","m":"GRPO","s":348,"v":1.311},{"p":"b","m":"GRPO","s":351,"v":1.547},{"p":"b","m":"GRPO","s":355,"v":1.513},{"p":"b","m":"GRPO","s":359,"v":1.486},{"p":"b","m":"GRPO","s":364,"v":1.395},{"p":"b","m":"GRPO","s":369,"v":1.43},{"p":"b","m":"GRPO","s":373,"v":1.243},{"p":"b","m":"GRPO","s":377,"v":1.074},{"p":"b","m":"GRPO","s":381,"v":1.182},{"p":"b","m":"GRPO","s":386,"v":1.125},{"p":"b","m":"GRPO","s":390,"v":1.108},{"p":"b","m":"GRPO","s":393,"v":1.007},{"p":"b","m":"GRPO","s":396,"v":1.074},{"p":"b","m":"GRPO","s":399,"v":1.135},{"p":"b","m":"GRPO","s":400,"v":0.98},
{"p":"c","m":"TR-GRPO","s":0,"v":0.466},{"p":"c","m":"TR-GRPO","s":5,"v":0.507},{"p":"c","m":"TR-GRPO","s":11,"v":0.525},{"p":"c","m":"TR-GRPO","s":15,"v":0.566},{"p":"c","m":"TR-GRPO","s":19,"v":0.548},{"p":"c","m":"TR-GRPO","s":25,"v":0.519},{"p":"c","m":"TR-GRPO","s":34,"v":0.484},{"p":"c","m":"TR-GRPO","s":43,"v":0.454},{"p":"c","m":"TR-GRPO","s":51,"v":0.425},{"p":"c","m":"TR-GRPO","s":60,"v":0.402},{"p":"c","m":"TR-GRPO","s":69,"v":0.381},{"p":"c","m":"TR-GRPO","s":78,"v":0.364},{"p":"c","m":"TR-GRPO","s":89,"v":0.361},{"p":"c","m":"TR-GRPO","s":98,"v":0.378},{"p":"c","m":"TR-GRPO","s":104,"v":0.425},{"p":"c","m":"TR-GRPO","s":112,"v":0.431},{"p":"c","m":"TR-GRPO","s":119,"v":0.407},{"p":"c","m":"TR-GRPO","s":125,"v":0.361},{"p":"c","m":"TR-GRPO","s":130,"v":0.337},{"p":"c","m":"TR-GRPO","s":139,"v":0.331},{"p":"c","m":"TR-GRPO","s":145,"v":0.349},{"p":"c","m":"TR-GRPO","s":153,"v":0.372},{"p":"c","m":"TR-GRPO","s":160,"v":0.361},{"p":"c","m":"TR-GRPO","s":165,"v":0.343},{"p":"c","m":"TR-GRPO","s":171,"v":0.325},{"p":"c","m":"TR-GRPO","s":179,"v":0.302},{"p":"c","m":"TR-GRPO","s":189,"v":0.306},{"p":"c","m":"TR-GRPO","s":198,"v":0.296},{"p":"c","m":"TR-GRPO","s":202,"v":0.31},{"p":"c","m":"TR-GRPO","s":214,"v":0.314},{"p":"c","m":"TR-GRPO","s":220,"v":0.306},{"p":"c","m":"TR-GRPO","s":229,"v":0.325},{"p":"c","m":"TR-GRPO","s":237,"v":0.343},{"p":"c","m":"TR-GRPO","s":246,"v":0.361},{"p":"c","m":"TR-GRPO","s":255,"v":0.384},{"p":"c","m":"TR-GRPO","s":264,"v":0.419},{"p":"c","m":"TR-GRPO","s":272,"v":0.425},{"p":"c","m":"TR-GRPO","s":278,"v":0.419},{"p":"c","m":"TR-GRPO","s":287,"v":0.39},{"p":"c","m":"TR-GRPO","s":296,"v":0.361},{"p":"c","m":"TR-GRPO","s":308,"v":0.352},{"p":"c","m":"TR-GRPO","s":316,"v":0.343},{"p":"c","m":"TR-GRPO","s":325,"v":0.331},{"p":"c","m":"TR-GRPO","s":334,"v":0.331},{"p":"c","m":"TR-GRPO","s":343,"v":0.314},{"p":"c","m":"TR-GRPO","s":354,"v":0.298},{"p":"c","m":"TR-GRPO","s":364,"v":0.288},{"p":"c","m":"TR-GRPO","s":372,"v":0.302},{"p":"c","m":"TR-GRPO","s":381,"v":0.31},{"p":"c","m":"TR-GRPO","s":388,"v":0.322},
{"p":"c","m":"GRPO","s":0,"v":0.378},{"p":"c","m":"GRPO","s":5,"v":0.392},{"p":"c","m":"GRPO","s":11,"v":0.384},{"p":"c","m":"GRPO","s":19,"v":0.38},{"p":"c","m":"GRPO","s":28,"v":0.369},{"p":"c","m":"GRPO","s":37,"v":0.375},{"p":"c","m":"GRPO","s":46,"v":0.369},{"p":"c","m":"GRPO","s":53,"v":0.357},{"p":"c","m":"GRPO","s":60,"v":0.366},{"p":"c","m":"GRPO","s":69,"v":0.381},{"p":"c","m":"GRPO","s":78,"v":0.39},{"p":"c","m":"GRPO","s":84,"v":0.407},{"p":"c","m":"GRPO","s":88,"v":0.396},{"p":"c","m":"GRPO","s":94,"v":0.407},{"p":"c","m":"GRPO","s":98,"v":0.39},{"p":"c","m":"GRPO","s":107,"v":0.399},{"p":"c","m":"GRPO","s":116,"v":0.396},{"p":"c","m":"GRPO","s":122,"v":0.39},{"p":"c","m":"GRPO","s":127,"v":0.366},{"p":"c","m":"GRPO","s":132,"v":0.355},{"p":"c","m":"GRPO","s":136,"v":0.402},{"p":"c","m":"GRPO","s":142,"v":0.419},{"p":"c","m":"GRPO","s":146,"v":0.46},{"p":"c","m":"GRPO","s":149,"v":0.577},{"p":"c","m":"GRPO","s":153,"v":0.6},{"p":"c","m":"GRPO","s":157,"v":0.591},{"p":"c","m":"GRPO","s":160,"v":0.536},{"p":"c","m":"GRPO","s":164,"v":0.495},{"p":"c","m":"GRPO","s":168,"v":0.478},{"p":"c","m":"GRPO","s":171,"v":0.337},{"p":"c","m":"GRPO","s":177,"v":0.349},{"p":"c","m":"GRPO","s":182,"v":0.337},{"p":"c","m":"GRPO","s":188,"v":0.361},{"p":"c","m":"GRPO","s":192,"v":0.413},{"p":"c","m":"GRPO","s":199,"v":0.425},{"p":"c","m":"GRPO","s":205,"v":0.472},{"p":"c","m":"GRPO","s":208,"v":0.52},{"p":"c","m":"GRPO","s":213,"v":0.5},{"p":"c","m":"GRPO","s":216,"v":0.46},{"p":"c","m":"GRPO","s":220,"v":0.47},{"p":"c","m":"GRPO","s":227,"v":0.472},{"p":"c","m":"GRPO","s":230,"v":0.39},{"p":"c","m":"GRPO","s":237,"v":0.419},{"p":"c","m":"GRPO","s":244,"v":0.437},{"p":"c","m":"GRPO","s":249,"v":0.419},{"p":"c","m":"GRPO","s":258,"v":0.407},{"p":"c","m":"GRPO","s":264,"v":0.39},{"p":"c","m":"GRPO","s":270,"v":0.425},{"p":"c","m":"GRPO","s":278,"v":0.419},{"p":"c","m":"GRPO","s":285,"v":0.396},{"p":"c","m":"GRPO","s":291,"v":0.361},{"p":"c","m":"GRPO","s":297,"v":0.345},{"p":"c","m":"GRPO","s":305,"v":0.372},{"p":"c","m":"GRPO","s":313,"v":0.384},{"p":"c","m":"GRPO","s":322,"v":0.378},{"p":"c","m":"GRPO","s":331,"v":0.372},{"p":"c","m":"GRPO","s":340,"v":0.361},{"p":"c","m":"GRPO","s":349,"v":0.343},{"p":"c","m":"GRPO","s":353,"v":0.329},{"p":"c","m":"GRPO","s":357,"v":0.337},{"p":"c","m":"GRPO","s":360,"v":0.384},{"p":"c","m":"GRPO","s":366,"v":0.402},{"p":"c","m":"GRPO","s":372,"v":0.431},{"p":"c","m":"GRPO","s":377,"v":0.443},{"p":"c","m":"GRPO","s":379,"v":0.449},{"p":"c","m":"GRPO","s":382,"v":0.396},{"p":"c","m":"GRPO","s":385,"v":0.413},{"p":"c","m":"GRPO","s":389,"v":0.407}
 ]},
 "hconcat": [
  {"title": "(a) kk_logic – Grad Norm", "width": 244, "height": 173,
   "encoding": {
     "x": {"field": "s", "type": "quantitative", "scale": {"domain": [-19.5, 409.5], "nice": false, "zero": false}, "axis": {"title": null, "values": [0, 100, 200, 300, 400]}},
     "y": {"field": "v", "type": "quantitative", "scale": {"domain": [0, 1.2], "nice": false, "zero": false}, "axis": {"title": "Grad Norm", "values": [0, 0.2, 0.4, 0.6, 0.8, 1.0, 1.2], "format": ".1f", "gridOpacity": {"condition": {"test": "datum.value <= 0.001 || datum.value >= 1.199", "value": 0}, "value": 1}}},
     "color": {"field": "m", "type": "nominal", "scale": {"domain": ["TR-GRPO", "GRPO"], "range": ["#7652e2", "#2ecb97"]}}
   },
   "layer": [
     {"data": {"name": "raw"}, "transform": [{"filter": "datum.p === 'a'"}], "mark": {"type": "line", "strokeWidth": 0.8, "opacity": 0.13, "clip": true}},
     {"data": {"name": "d"}, "transform": [{"filter": "datum.p === 'a'"}], "mark": {"type": "line", "strokeWidth": 2, "clip": true}}
   ]},
  {"title": "(b) search_r1 – Grad Norm", "width": 242, "height": 173,
   "encoding": {
     "x": {"field": "s", "type": "quantitative", "scale": {"domain": [-19.95, 418.95], "nice": false, "zero": false}, "axis": {"title": null, "values": [0, 100, 200, 300, 400]}},
     "y": {"field": "v", "type": "quantitative", "scale": {"domain": [0.25, 2.0], "nice": false, "zero": false}, "axis": {"title": "Grad Norm", "values": [0.25, 0.5, 0.75, 1.0, 1.25, 1.5, 1.75, 2.0], "format": ".2f", "gridOpacity": {"condition": {"test": "datum.value <= 0.251 || datum.value >= 1.999", "value": 0}, "value": 1}}},
     "color": {"field": "m", "type": "nominal", "scale": {"domain": ["TR-GRPO", "GRPO"], "range": ["#7652e2", "#2ecb97"]}}
   },
   "layer": [
     {"data": {"name": "raw"}, "transform": [{"filter": "datum.p === 'b'"}], "mark": {"type": "line", "strokeWidth": 0.8, "opacity": 0.13, "clip": true}},
     {"data": {"name": "d"}, "transform": [{"filter": "datum.p === 'b'"}], "mark": {"type": "line", "strokeWidth": 2, "clip": true}}
   ]},
  {"title": "(c) math_orz – Grad Norm", "width": 244, "height": 173,
   "encoding": {
     "x": {"field": "s", "type": "quantitative", "scale": {"domain": [-20.5, 411], "nice": false, "zero": false}, "axis": {"title": null, "values": [0, 100, 200, 300, 400]}},
     "y": {"field": "v", "type": "quantitative", "scale": {"domain": [0.2, 0.8], "nice": false, "zero": false}, "axis": {"title": "Grad Norm", "values": [0.2, 0.3, 0.4, 0.5, 0.6, 0.7, 0.8], "format": ".1f", "gridOpacity": {"condition": {"test": "datum.value <= 0.201 || datum.value >= 0.799", "value": 0}, "value": 1}}},
     "color": {"field": "m", "type": "nominal", "scale": {"domain": ["TR-GRPO", "GRPO"], "range": ["#7652e2", "#2ecb97"]}}
   },
   "layer": [
     {"data": {"name": "raw"}, "transform": [{"filter": "datum.p === 'c'"}], "mark": {"type": "line", "strokeWidth": 0.8, "opacity": 0.13, "clip": true}},
     {"data": {"name": "d"}, "transform": [{"filter": "datum.p === 'c'"}], "mark": {"type": "line", "strokeWidth": 2, "clip": true}}
   ]}
 ]
}
